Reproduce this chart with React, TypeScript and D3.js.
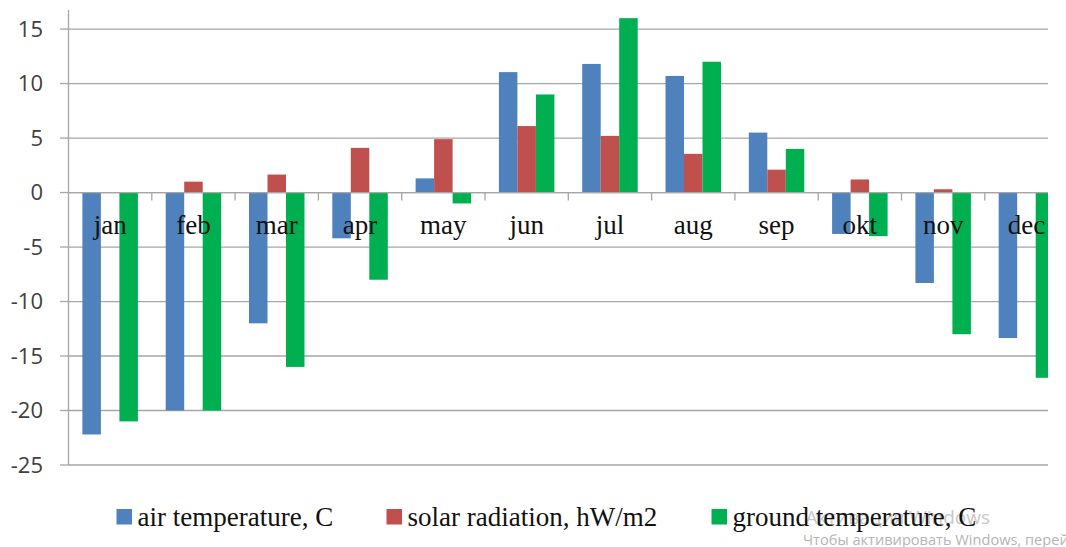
import { useEffect, useRef } from 'react'
import * as d3 from 'd3'

const months = ['jan', 'feb', 'mar', 'apr', 'may', 'jun', 'jul', 'aug', 'sep', 'okt', 'nov', 'dec']
const seriesNames = ['air temperature, C', 'solar radiation, hW/m2', 'ground temperature, C']
const airTemp = [-22.2, -20, -12, -4.2, 1.3, 11.05, 11.8, 10.7, 5.5, -3.8, -8.3, -13.35]
const solarRad = [0, 1, 1.65, 4.1, 4.9, 6.1, 5.2, 3.55, 2.1, 1.2, 0.3, 0]
const groundTemp = [-21, -20, -16, -8, -1, 9, 16, 12, 4, -4, -13, -17]
const yTicks = [-25, -20, -15, -10, -5, 0, 5, 10, 15]
const colors = ['#4F81BD', '#C0504D', '#00B050']

const W = 1066
const H = 547

export default function App() {
    const ref = useRef<SVGSVGElement>(null)

    useEffect(() => {
        const svg = d3.select(ref.current)
        svg.selectAll('*').remove()

        const left = 68.5
        const step = 83.3
        const clipRight = 1048
        const y = d3.scaleLinear().domain([-25, 16.75]).range([465, 10])
        const x = d3.scaleBand().domain(months).range([left, left + step * months.length])
        const xs = d3.scaleBand().domain(seriesNames).range([13.9, step - 13.9])

        svg.append('defs').append('clipPath').attr('id', 'plotclip')
            .append('rect').attr('x', 0).attr('y', 0).attr('width', clipRight).attr('height', H)

        const plot = svg.append('g').attr('clip-path', 'url(#plotclip)')

        // gridlines
        plot.selectAll('line.grid').data(yTicks).enter().append('line')
            .attr('x1', left).attr('x2', clipRight)
            .attr('y1', d => y(d)).attr('y2', d => y(d))
            .attr('stroke', '#a6a6a6').attr('stroke-width', 1.3)

        // y axis
        svg.append('line').attr('x1', left).attr('x2', left).attr('y1', 10).attr('y2', y(-25))
            .attr('stroke', '#a6a6a6').attr('stroke-width', 1.3)
        svg.selectAll('line.ytick').data(yTicks).enter().append('line')
            .attr('x1', 60).attr('x2', left)
            .attr('y1', d => y(d)).attr('y2', d => y(d))
            .attr('stroke', '#a6a6a6').attr('stroke-width', 1.3)
        svg.selectAll('text.ylab').data(yTicks).enter().append('text')
            .attr('x', 43).attr('y', d => y(d)).attr('dy', '0.36em')
            .attr('text-anchor', 'end')
            .style('font-family', '"Open Sans", sans-serif').style('font-size', '22px')
            .attr('fill', '#404040')
            .text(d => d)

        // category ticks on zero line
        plot.selectAll('line.xtick').data(months.slice(1)).enter().append('line')
            .attr('x1', d => x(d)!).attr('x2', d => x(d)!)
            .attr('y1', y(0)).attr('y2', y(0) + 8)
            .attr('stroke', '#a6a6a6').attr('stroke-width', 1.3)

        const all = [airTemp, solarRad, groundTemp]
        all.forEach((vals, si) => {
            plot.selectAll(`rect.s${si}`).data(vals).enter().append('rect')
                .attr('x', (d, i) => x(months[i])! + xs(seriesNames[si])!)
                .attr('width', xs.bandwidth())
                .attr('y', d => y(Math.max(0, d)))
                .attr('height', d => Math.abs(y(d) - y(0)))
                .attr('fill', colors[si])
        })

        // zero line drawn again over the bars
        plot.append('line').attr('x1', left).attr('x2', clipRight)
            .attr('y1', y(0)).attr('y2', y(0))
            .attr('stroke', '#a6a6a6').attr('stroke-width', 1.3)

        // category labels
        plot.selectAll('text.cat').data(months).enter().append('text')
            .attr('x', d => x(d)! + step / 2).attr('y', 234)
            .attr('text-anchor', 'middle')
            .style('font-family', '"Liberation Serif", serif').style('font-size', '27px')
            .attr('fill', '#111')
            .text(d => d)

        // windows watermark, sits under the legend text
        svg.append('text').attr('x', 990).attr('y', 524).attr('text-anchor', 'end')
            .style('font-family', '"Open Sans", sans-serif').style('font-size', '19px')
            .attr('fill', '#c8c8c8').text('Активация Windows')

        // legend
        const legendX = [116.5, 386.5, 711.5]
        const lg = svg.selectAll('g.leg').data(seriesNames).enter().append('g')
            .attr('transform', (d, i) => `translate(${legendX[i]},0)`)
        lg.append('rect').attr('x', 0).attr('y', 509).attr('width', 15.5).attr('height', 15.5)
            .attr('fill', (d, i) => colors[i])
        lg.append('text').attr('x', 21).attr('y', 526)
            .style('font-family', '"Liberation Serif", serif').style('font-size', '27px')
            .attr('fill', '#111')
            .text(d => d)

        svg.append('text').attr('x', 803).attr('y', 545)
            .style('font-family', '"Open Sans", sans-serif').style('font-size', '14.6px')
            .attr('fill', '#b4b4b4').text('Чтобы активировать Windows, перей')
    }, [])

    return (
        <svg ref={ref} width={W} height={H}
            style={{ position: 'absolute', left: 0, top: 0, background: '#fff' }} />
    )
}
